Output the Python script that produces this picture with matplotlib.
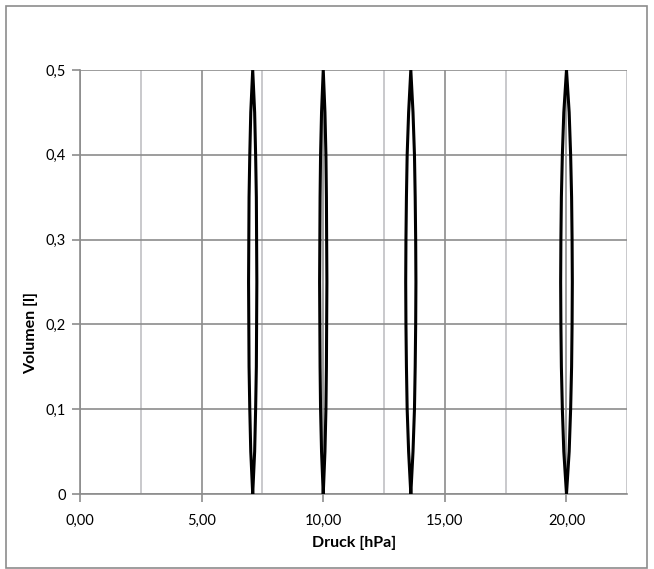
import matplotlib
matplotlib.use('Agg')
import matplotlib.pyplot as plt
from matplotlib.ticker import FuncFormatter, MultipleLocator
from matplotlib.patches import Rectangle

plt.rcParams['font.family'] = ['Lato', 'DejaVu Sans']

# Volumen [l] entlang jeder Schleife (von 0 nach 0,5)
volumen = [0, 0.05, 0.1, 0.15, 0.2, 0.25, 0.3, 0.35, 0.4, 0.45, 0.5]

# Druck [hPa] je Schleife: Einatmen (rechte Seite) und Ausatmen (linke Seite)
druck_ein_1 = [7.10, 7.18, 7.22, 7.25, 7.26, 7.27, 7.26, 7.25, 7.22, 7.18, 7.10]
druck_aus_1 = [7.10, 7.02, 6.98, 6.95, 6.94, 6.93, 6.94, 6.95, 6.98, 7.02, 7.10]
druck_ein_2 = [10.00, 10.07, 10.11, 10.13, 10.14, 10.15, 10.14, 10.13, 10.11, 10.07, 10.00]
druck_aus_2 = [10.00, 9.93, 9.89, 9.87, 9.86, 9.85, 9.86, 9.87, 9.89, 9.93, 10.00]
druck_ein_3 = [13.60, 13.69, 13.75, 13.78, 13.80, 13.81, 13.80, 13.78, 13.75, 13.69, 13.60]
druck_aus_3 = [13.60, 13.51, 13.45, 13.42, 13.40, 13.39, 13.40, 13.42, 13.45, 13.51, 13.60]
druck_ein_4 = [20.00, 20.11, 20.17, 20.21, 20.23, 20.24, 20.23, 20.21, 20.17, 20.11, 20.00]
druck_aus_4 = [20.00, 19.89, 19.83, 19.79, 19.77, 19.76, 19.77, 19.79, 19.83, 19.89, 20.00]

schleifen = [(druck_ein_1, druck_aus_1), (druck_ein_2, druck_aus_2),
             (druck_ein_3, druck_aus_3), (druck_ein_4, druck_aus_4)]

fig = plt.figure(figsize=(6.54, 5.69), dpi=100)
ax = fig.add_axes([80/654, 75/569, (627.3-80)/654, (494-70)/569])

# Rahmen um das ganze Diagramm
fig.patches.append(Rectangle((6/654, 1/569), 641/654, 562/569, transform=fig.transFigure,
                             fill=False, edgecolor='#8c8c8c', linewidth=1.2))

dunkel = '#8c8c8c'
hell = '#c0c0c4'

ax.set_xlim(0, 22.5)
ax.set_ylim(0, 0.5)
ax.xaxis.set_major_locator(MultipleLocator(5))
ax.xaxis.set_minor_locator(MultipleLocator(2.5))
ax.yaxis.set_major_locator(MultipleLocator(0.1))

ax.grid(which='minor', axis='x', color=hell, linewidth=1.2)
ax.grid(which='major', axis='x', color=dunkel, linewidth=1.2)
ax.grid(which='major', axis='y', color=dunkel, linewidth=1.2)
ax.set_axisbelow(True)

for ein, aus in schleifen:
    ax.plot(ein + aus[::-1], volumen + volumen[::-1], color='black', linewidth=2.2,
            solid_joinstyle='round', zorder=3)

for s in ['top', 'right']:
    ax.spines[s].set_visible(False)
for s in ['left', 'bottom']:
    ax.spines[s].set_color(dunkel)
    ax.spines[s].set_linewidth(1.2)

ax.xaxis.set_major_formatter(FuncFormatter(lambda v, p: ('%.2f' % v).replace('.', ',')))
ax.yaxis.set_major_formatter(FuncFormatter(lambda v, p: '0' if abs(v) < 1e-9 else ('%.1f' % v).replace('.', ',')))
ax.tick_params(which='major', direction='out', length=6, width=1.2, color=dunkel,
               labelsize=10.5, labelcolor='black', pad=8)
ax.tick_params(which='minor', length=0)
ax.tick_params(axis='y', pad=4)

ax.set_xlabel('Druck [hPa]', fontsize=11.5, fontweight='bold', labelpad=6)
ax.set_ylabel('Volumen [l]', fontsize=11.5, fontweight='bold')
ax.yaxis.set_label_coords(-0.076, 0.38)

fig.savefig('out.png', dpi=100, facecolor='white')
